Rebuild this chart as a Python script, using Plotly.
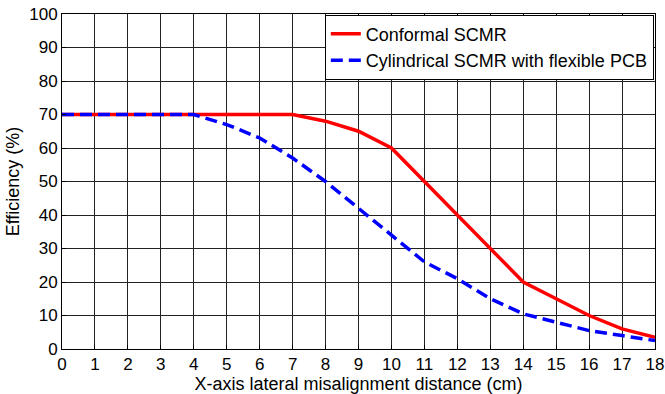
import plotly.graph_objects as go

x_vals = list(range(0, 19))
conformal = [70, 70, 70, 70, 70, 70, 70, 70, 68, 65, 60, 50, 40, 30, 20, 15, 10, 6, 3.5]
cylindrical = [70, 70, 70, 70, 70, 67, 63, 57, 50, 42, 34, 26, 21, 15, 10.5, 8, 5.5, 4, 2.5]
x_ticks = list(range(0, 19))
y_ticks = list(range(0, 101, 10))

fig = go.Figure()
fig.add_trace(go.Scatter(x=x_vals, y=conformal, mode="lines", name="Conformal SCMR",
                         line=dict(color="#ff0000", width=3.5)))
fig.add_trace(go.Scatter(x=x_vals, y=cylindrical, mode="lines", name="Cylindrical SCMR with flexible PCB",
                         line=dict(color="#0000ff", width=3.5, dash="12px,6px")))

axis_common = dict(showgrid=True, gridcolor="#222222", gridwidth=1, showline=True,
                   linecolor="black", linewidth=1, mirror=True, ticks="inside", ticklen=4,
                   tickcolor="black", zeroline=False, automargin=False,
                   tickfont=dict(family="Liberation Sans, Arial", size=17, color="black"))

fig.update_layout(
    width=665, height=394,
    margin=dict(l=62, r=10, t=14, b=45),
    paper_bgcolor="white", plot_bgcolor="white",
    font=dict(family="Liberation Sans, Arial", size=17, color="black"),
    xaxis=dict(range=[0, 18], tickvals=x_ticks, ticktext=[str(v) for v in x_ticks],
               title=dict(text="X-axis lateral misalignment distance (cm)", standoff=0,
                          font=dict(size=18)), **axis_common),
    yaxis=dict(range=[0, 100], tickvals=y_ticks, ticktext=[str(v) for v in y_ticks],
               title=dict(text="Efficiency (%)", standoff=4, font=dict(size=18)), **axis_common),
    legend=dict(x=0.998, y=0.998, xanchor="right", yanchor="top", bgcolor="white",
                bordercolor="black", borderwidth=1, font=dict(size=18),
                itemwidth=30, tracegroupgap=0),
    showlegend=True,
)

fig.write_html("out.html")
